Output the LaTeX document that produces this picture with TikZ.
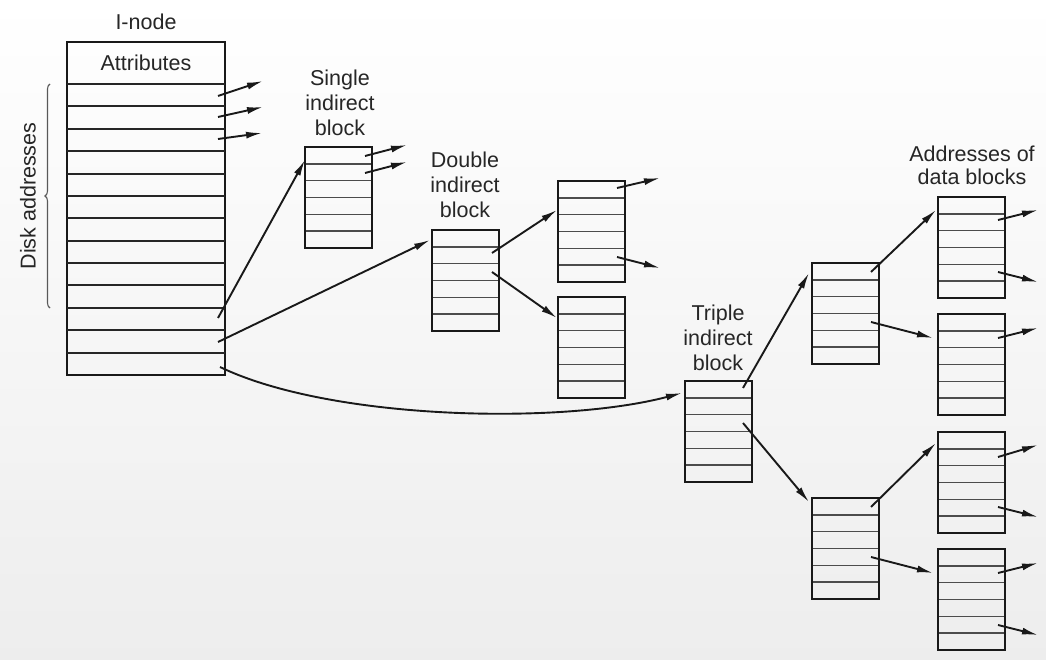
\documentclass[tikz,border=0pt]{standalone}
\usepackage{fontspec}
\setmainfont{Liberation Sans}
\usetikzlibrary{arrows.meta,calc,decorations.pathreplacing}
\begin{document}
\begin{tikzpicture}[x=1pt,y=-1pt,
  lbl/.style={font=\fontsize{21.5}{25}\selectfont,text=black!85,align=center,inner sep=0pt},
  blk/.style={draw=black!90,line width=2.2pt,minimum width=67pt,minimum height=101pt,inner sep=0pt,outer sep=0pt,anchor=north west,
    path picture={\foreach \k in {1,...,5}{\draw[black!70,line width=1.4pt]
      ($(path picture bounding box.north west)!\k/6!(path picture bounding box.south west)$) --
      ($(path picture bounding box.north east)!\k/6!(path picture bounding box.south east)$);}}},
  arr/.style={draw=black!90,line width=1.9pt,-{Latex[length=16pt,width=7pt]}},
  rowline/.style={draw=black!85,line width=2pt}
]
\useasboundingbox (0,0) rectangle (1046,660);
\fill[top color=white,bottom color=black!7] (0,0) rectangle (1046,660);

% I-node
\node[draw=black!90,line width=2.2pt,minimum width=158pt,minimum height=333pt,inner sep=0pt,outer sep=0pt,anchor=north west] (inode) at (67,42) {};
\foreach \k in {0,...,12}{\draw[rowline] ($(inode.north west)+(0,42+\k*22.38)$) -- ++(158,0);}
\node[lbl] (inodelbl) at (146,22) {I-node};
\node[lbl] (attr) at (146,63) {Attributes};
\node[lbl,rotate=90] (disk) at (28,196) {Disk addresses};
\draw[black!65,line width=1.1pt,decorate,decoration={brace,amplitude=5pt}] (50,308) -- (50,84);

% blocks
\node[blk] (single) at (305,147) {};
\node[blk] (double) at (432,230) {};
\node[blk] (dA) at (558,181) {};
\node[blk] (dB) at (558,297) {};
\node[blk] (triple) at (685,381) {};
\node[blk] (tA) at (812,263) {};
\node[blk] (tB) at (812,498) {};
\node[blk] (bA) at (938,197) {};
\node[blk] (bB) at (938,314) {};
\node[blk] (bC) at (938,432) {};
\node[blk] (bD) at (938,549) {};

% labels
\node[lbl] (singlelbl) at (340,103) {Single\\indirect\\block};
\node[lbl] (doublelbl) at (465,185) {Double\\indirect\\block};
\node[lbl] (triplelbl) at (718,338) {Triple\\indirect\\block};
\node[lbl,font=\fontsize{21.5}{23}\selectfont] (addrlbl) at (972,165) {Addresses of\\data blocks};

% start points
\coordinate (i1) at (218,96);
\coordinate (i2) at (218,117);
\coordinate (i3) at (218,139);
\coordinate (i11) at (218,318);
\coordinate (i12) at (218,342);
\coordinate (i13) at (220,367);
\coordinate (s1) at ($(single.north east)+(-7,9)$);
\coordinate (s2) at ($(single.north east)+(-7,26)$);
\coordinate (d2) at ($(double.north east)+(-7,23)$);
\coordinate (d3) at ($(double.north east)+(-7,42)$);
\coordinate (dA1) at ($(dA.north east)+(-8,7)$);
\coordinate (dA5) at ($(dA.north east)+(-8,76)$);
\coordinate (t1) at ($(triple.north east)+(-9,7)$);
\coordinate (t3) at ($(triple.north east)+(-9,42)$);
\coordinate (tA1) at ($(tA.north east)+(-8,9)$);
\coordinate (tA4) at ($(tA.north east)+(-8,59)$);
\coordinate (tB1) at ($(tB.north east)+(-8,9)$);
\coordinate (tB4) at ($(tB.north east)+(-8,59)$);
\coordinate (bA2) at ($(bA.north east)+(-7,23)$);
\coordinate (bA5) at ($(bA.north east)+(-7,75)$);
\coordinate (bB2) at ($(bB.north east)+(-7,24)$);
\coordinate (bC2) at ($(bC.north east)+(-7,25)$);
\coordinate (bC5) at ($(bC.north east)+(-7,75)$);
\coordinate (bD2) at ($(bD.north east)+(-7,24)$);
\coordinate (bD5) at ($(bD.north east)+(-7,76)$);

% free ends
\coordinate (e1) at (263,81);
\coordinate (e2) at (263,107);
\coordinate (e3) at (262,133);
\coordinate (es1) at (407,145);
\coordinate (es2) at (407,162);
\coordinate (edA1) at (660,178);
\coordinate (edA5) at (660,268);
\coordinate (ebA2) at (1038,210);
\coordinate (ebA5) at (1038,282);
\coordinate (ebB2) at (1038,328);
\coordinate (ebC2) at (1038,445);
\coordinate (ebC5) at (1038,517);
\coordinate (ebD2) at (1038,563);
\coordinate (ebD5) at (1038,635);

% arrows
\draw[arr] (i1) -- (e1);
\draw[arr] (i2) -- (e2);
\draw[arr] (i3) -- (e3);
\draw[arr] (i11) -- ($(single.north west)+(0,13)$);
\draw[arr] (i12) -- ($(double.north west)+(-2,10)$);
\draw[arr] (i13) .. controls (330,420) and (560,425) .. ($(triple.north west)+(-3,12)$);
\draw[arr] (s1) -- (es1);
\draw[arr] (s2) -- (es2);
\draw[arr] (d2) -- ($(dA.north west)+(-1,29)$);
\draw[arr] (d3) -- ($(dB.north west)+(-1,21)$);
\draw[arr] (dA1) -- (edA1);
\draw[arr] (dA5) -- (edA5);
\draw[arr] (t1) -- ($(tA.north west)+(-3,10)$);
\draw[arr] (t3) -- ($(tB.north west)+(-3,4)$);
\draw[arr] (tA1) -- ($(bA.north west)+(-2,13)$);
\draw[arr] (tA4) -- ($(bB.north west)+(-5,24)$);
\draw[arr] (tB1) -- ($(bC.north west)+(-2,11)$);
\draw[arr] (tB4) -- ($(bD.north west)+(-5,24)$);
\draw[arr] (bA2) -- (ebA2);
\draw[arr] (bA5) -- (ebA5);
\draw[arr] (bB2) -- (ebB2);
\draw[arr] (bC2) -- (ebC2);
\draw[arr] (bC5) -- (ebC5);
\draw[arr] (bD2) -- (ebD2);
\draw[arr] (bD5) -- (ebD5);
\end{tikzpicture}
\end{document}
